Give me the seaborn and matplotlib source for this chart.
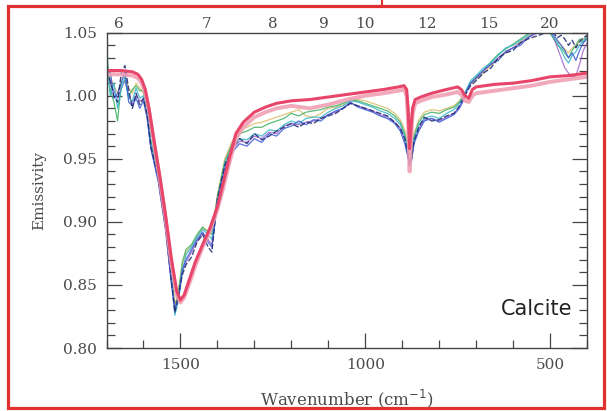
import numpy as np
import pandas as pd
import matplotlib
matplotlib.use("Agg")
import matplotlib.pyplot as plt
from matplotlib.patches import Rectangle
from matplotlib.lines import Line2D
from matplotlib.ticker import MultipleLocator
import seaborn as sns

# ---------------- data ----------------
# smooth laboratory spectra (red / pink)
lab_wn = [1700, 1660, 1630, 1615, 1605, 1595, 1585, 1570, 1555, 1540,
          1525, 1510, 1500, 1490, 1475, 1460, 1440, 1420, 1400, 1385,
          1370, 1350, 1330, 1300, 1270, 1240, 1200, 1150, 1100, 1050,
          1000, 950, 910, 895, 888, 884, 880, 876, 872, 865,
          850, 820, 780, 750, 740, 730, 720, 710, 700, 650,
          600, 550, 500, 450, 400]
red_em = [1.020, 1.020, 1.019, 1.017, 1.013, 1.005, 0.990, 0.962, 0.935, 0.905,
          0.872, 0.845, 0.838, 0.842, 0.855, 0.868, 0.882, 0.895, 0.912, 0.930,
          0.948, 0.970, 0.979, 0.987, 0.991, 0.994, 0.996, 0.997, 0.999, 1.001,
          1.003, 1.005, 1.007, 1.008, 1.005, 0.990, 0.958, 0.975, 0.990, 0.997,
          0.999, 1.002, 1.005, 1.007, 1.005, 1.000, 0.998, 1.005, 1.007, 1.009,
          1.010, 1.012, 1.015, 1.016, 1.018]
pink_em = [1.017, 1.017, 1.016, 1.014, 1.010, 1.002, 0.988, 0.960, 0.932, 0.902,
           0.868, 0.842, 0.836, 0.840, 0.852, 0.865, 0.880, 0.893, 0.910, 0.926,
           0.944, 0.966, 0.975, 0.983, 0.987, 0.990, 0.992, 0.990, 0.993, 0.997,
           1.000, 1.002, 1.004, 1.005, 1.000, 0.980, 0.940, 0.965, 0.985, 0.994,
           0.996, 0.999, 1.001, 1.003, 1.001, 0.996, 0.995, 1.000, 1.002, 1.004,
           1.006, 1.008, 1.011, 1.013, 1.015]

# noisy field spectra
field_wn = [1700, 1690, 1680, 1670, 1660, 1650, 1640, 1630, 1620, 1610,
            1600, 1590, 1580, 1560, 1540, 1525, 1515, 1505, 1495, 1485,
            1470, 1455, 1440, 1425, 1415, 1400, 1380, 1360, 1340, 1320,
            1300, 1280, 1260, 1240, 1220, 1200, 1180, 1160, 1140, 1120,
            1100, 1080, 1060, 1040, 1020, 1000, 980, 960, 940, 920,
            905, 893, 885, 880, 875, 868, 855, 840, 820, 800,
            780, 760, 745, 735, 725, 715, 700, 680, 660, 640,
            620, 600, 580, 560, 540, 520, 500, 490, 480, 470,
            460, 450, 440, 430, 420, 410, 400]
navy_em = [1.020, 1.012, 1.000, 0.995, 1.018, 1.024, 1.005, 0.990, 1.002, 0.993,
           0.998, 0.985, 0.960, 0.935, 0.895, 0.855, 0.828, 0.842, 0.858, 0.866,
           0.872, 0.884, 0.890, 0.880, 0.876, 0.918, 0.945, 0.958, 0.966, 0.962,
           0.970, 0.965, 0.968, 0.972, 0.975, 0.978, 0.975, 0.979, 0.978, 0.982,
           0.984, 0.986, 0.990, 0.994, 0.992, 0.990, 0.988, 0.986, 0.984, 0.979,
           0.974, 0.966, 0.955, 0.946, 0.950, 0.964, 0.975, 0.983, 0.980, 0.981,
           0.984, 0.986, 0.992, 0.998, 1.003, 1.008, 1.012, 1.018, 1.022, 1.030,
           1.034, 1.036, 1.042, 1.045, 1.047, 1.049, 1.052, 1.050, 1.046, 1.048,
           1.045, 1.040, 1.044, 1.038, 1.043, 1.046, 1.048]
blue_em = [1.015, 1.020, 0.998, 1.002, 1.010, 1.020, 0.995, 0.992, 0.998, 0.990,
           0.996, 0.982, 0.958, 0.932, 0.893, 0.852, 0.830, 0.840, 0.862, 0.870,
           0.878, 0.886, 0.892, 0.884, 0.880, 0.915, 0.942, 0.955, 0.962, 0.960,
           0.966, 0.963, 0.970, 0.968, 0.974, 0.976, 0.980, 0.977, 0.981, 0.980,
           0.985, 0.988, 0.990, 0.995, 0.991, 0.989, 0.987, 0.984, 0.982, 0.978,
           0.972, 0.962, 0.952, 0.944, 0.948, 0.962, 0.972, 0.980, 0.982, 0.979,
           0.982, 0.985, 0.990, 0.996, 1.004, 1.010, 1.014, 1.020, 1.025, 1.028,
           1.035, 1.038, 1.040, 1.046, 1.050, 1.050, 1.051, 1.048, 1.044, 1.040,
           1.036, 1.030, 1.034, 1.028, 1.036, 1.042, 1.045]
cyan_em = [1.030, 1.000, 1.010, 0.990, 1.005, 1.015, 0.998, 0.996, 1.006, 0.998,
           1.000, 0.986, 0.962, 0.936, 0.897, 0.858, 0.826, 0.838, 0.860, 0.874,
           0.880, 0.888, 0.894, 0.890, 0.886, 0.918, 0.946, 0.960, 0.966, 0.965,
           0.970, 0.968, 0.973, 0.972, 0.977, 0.980, 0.978, 0.982, 0.983, 0.983,
           0.987, 0.990, 0.992, 0.996, 0.995, 0.993, 0.991, 0.988, 0.986, 0.982,
           0.977, 0.968, 0.956, 0.945, 0.950, 0.966, 0.977, 0.982, 0.984, 0.982,
           0.986, 0.989, 0.994, 0.999, 1.006, 1.012, 1.016, 1.022, 1.026, 1.032,
           1.038, 1.040, 1.044, 1.048, 1.052, 1.052, 1.050, 1.046, 1.042, 1.036,
           1.030, 1.026, 1.032, 1.035, 1.040, 1.044, 1.046]
green_em = [1.038, 1.005, 0.995, 0.980, 1.010, 1.012, 1.000, 1.005, 1.008, 1.004,
            1.004, 0.990, 0.965, 0.938, 0.900, 0.862, 0.832, 0.845, 0.868, 0.878,
            0.882, 0.890, 0.896, 0.892, 0.890, 0.920, 0.948, 0.962, 0.970, 0.972,
            0.975, 0.975, 0.978, 0.980, 0.982, 0.986, 0.984, 0.987, 0.988, 0.989,
            0.991, 0.992, 0.994, 0.997, 0.996, 0.994, 0.992, 0.990, 0.988, 0.984,
            0.979, 0.970, 0.958, 0.948, 0.952, 0.968, 0.979, 0.985, 0.987, 0.986,
            0.989, 0.991, 0.995, 1.000, 1.005, 1.010, 1.015, 1.020, 1.027, 1.033,
            1.037, 1.041, 1.045, 1.049, 1.052, 1.053, 1.050, 1.045, 1.040, 1.038,
            1.034, 1.030, 1.036, 1.040, 1.045, 1.042, 1.048]
olive_em = [1.025, 1.015, 1.008, 1.002, 1.012, 1.016, 1.006, 1.002, 1.010, 1.006,
            1.002, 0.988, 0.963, 0.937, 0.899, 0.860, 0.834, 0.846, 0.866, 0.876,
            0.881, 0.889, 0.895, 0.893, 0.891, 0.921, 0.950, 0.964, 0.972, 0.975,
            0.978, 0.979, 0.981, 0.983, 0.985, 0.987, 0.989, 0.984, 0.983, 0.986,
            0.990, 0.991, 0.993, 0.996, 0.997, 0.996, 0.994, 0.992, 0.990, 0.986,
            0.981, 0.973, 0.960, 0.950, 0.954, 0.970, 0.981, 0.987, 0.989, 0.988,
            0.990, 0.992, 0.996, 1.000, 1.004, 1.009, 1.013, 1.018, 1.024, 1.030,
            1.034, 1.038, 1.043, 1.047, 1.050, 1.051, 1.049, 1.046, 1.043, 1.040,
            1.037, 1.034, 1.038, 1.040, 1.043, 1.045, 1.047]
purple_em = [1.020, 1.010, 1.004, 0.998, 1.006, 1.012, 1.000, 0.994, 1.000, 0.996,
             0.997, 0.984, 0.959, 0.933, 0.894, 0.854, 0.832, 0.841, 0.860, 0.868,
             0.876, 0.885, 0.891, 0.886, 0.882, 0.916, 0.944, 0.957, 0.964, 0.963,
             0.968, 0.966, 0.971, 0.970, 0.976, 0.978, 0.977, 0.979, 0.980, 0.982,
             0.985, 0.987, 0.990, 0.994, 0.992, 0.990, 0.988, 0.985, 0.983, 0.979,
             0.974, 0.965, 0.953, 0.945, 0.949, 0.964, 0.974, 0.981, 0.982, 0.980,
             0.983, 0.986, 0.991, 0.997, 1.004, 1.010, 1.014, 1.020, 1.025, 1.030,
             1.035, 1.038, 1.042, 1.046, 1.049, 1.051, 1.052, 1.046, 1.038, 1.030,
             1.022, 1.018, 1.015, 1.016, 1.025, 1.036, 1.042]

x_ticks = [1500, 1000, 500]
x_ticklabels = ["1500", "1000", "500"]
y_ticks = [0.80, 0.85, 0.90, 0.95, 1.00, 1.05]
y_ticklabels = ["0.80", "0.85", "0.90", "0.95", "1.00", "1.05"]
micron_labels = [6, 7, 8, 9, 10, 12, 15, 20]

# ---------------- style ----------------
sns.set_theme(style="ticks")
plt.rcParams["font.family"] = ["DejaVu Serif"]
txt = "#4a4a4a"

fig = plt.figure(figsize=(6.07, 4.11), dpi=100)
fig.patch.set_facecolor("white")
ax = fig.add_axes([106.5 / 607, 1 - 348 / 411, 480.5 / 607, 315.3 / 411])
ax.set_facecolor("white")

field = [
    (olive_em, "#d8b860", "-", 0.9, 0.8),
    (green_em, "#3fb060", "-", 0.9, 0.85),
    (purple_em, "#9a5cc8", "-", 0.9, 0.8),
    (cyan_em, "#35b5c8", "-", 0.9, 0.85),
    (blue_em, "#3a5ad8", "-", 0.9, 0.85),
    (navy_em, "#1c2a70", (0, (4, 1.5)), 1.0, 0.85),
]
for vals, col, ls, lw, al in field:
    sns.lineplot(x=field_wn, y=vals, ax=ax, sort=False, estimator=None,
                 color=col, linestyle=ls, linewidth=lw, alpha=al)

sns.lineplot(x=lab_wn, y=pink_em, ax=ax, sort=False, estimator=None,
             color="#f0a0b4", linewidth=2.8, alpha=0.9)
sns.lineplot(x=lab_wn, y=red_em, ax=ax, sort=False, estimator=None,
             color="#e8456a", linewidth=2.2)

ax.set_xlim(1700, 400)
ax.set_ylim(0.80, 1.05)
ax.set_xticks(x_ticks)
ax.set_xticklabels(x_ticklabels)
ax.set_yticks(y_ticks)
ax.set_yticklabels(y_ticklabels)
ax.xaxis.set_minor_locator(MultipleLocator(100))
ax.yaxis.set_minor_locator(MultipleLocator(0.01))
ax.tick_params(which="both", direction="in", top=True, right=True,
               color="#444444", width=0.9, labelsize=11, labelcolor=txt)
ax.tick_params(which="major", length=11, pad=7)
ax.tick_params(which="minor", length=5.5)
for s in ax.spines.values():
    s.set_color("#444444")
    s.set_linewidth(1.0)

ax.set_xlabel(r"Wavenumber (cm$^{-1}$)", fontsize=12, color=txt)
ax.set_ylabel("Emissivity", fontsize=11, color=txt)
ax.xaxis.set_label_coords(0.5, -0.125)
ax.yaxis.set_label_coords(-0.125, 0.5)

# wavelength labels on top (micron)
ax2 = ax.twiny()
ax2.set_xlim(ax.get_xlim())
ax2.set_xticks([10000.0 / m for m in micron_labels])
ax2.set_xticklabels([str(m) for m in micron_labels])
ax2.tick_params(axis="x", length=0, pad=1, labelsize=11, labelcolor=txt)
for s in ax2.spines.values():
    s.set_visible(False)
ax2.grid(False)

ax.text(0.895, 0.125, "Calcite", transform=ax.transAxes, fontsize=15,
        family="DejaVu Sans", color="#222222", ha="center", va="center")

# red frame around the figure
fig.patches.append(Rectangle((8 / 607, 3 / 411), 596 / 607, 402 / 411,
                             transform=fig.transFigure, fill=False,
                             edgecolor="#e03030", linewidth=2.3))
fig.lines.append(Line2D([382 / 607, 382 / 607], [1 - 6 / 411, 1.0],
                        transform=fig.transFigure, color="#e03030",
                        linewidth=1.5))

fig.savefig("out.png", dpi=100)
